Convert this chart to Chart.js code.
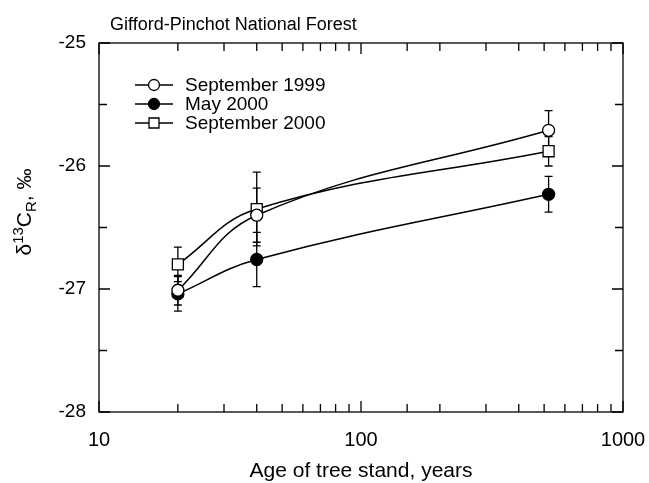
<!DOCTYPE html>
<html>
<head>
<meta charset="utf-8">
<script src="https://cdn.jsdelivr.net/npm/chart.js"></script>
<style>
  body { margin: 0; background: #fff; }
  #wrap { width: 649px; height: 483px; }
</style>
</head>
<body>
<div id="wrap"><canvas id="chart" width="649" height="483"></canvas></div>
<script>
// stand age (years) and d13C of ecosystem respiration
const ages = [20, 40, 520];
const sep1999 = [-27.01, -26.40, -25.71];
const sep1999Err = [0.12, 0.22, 0.16];
const may2000 = [-27.04, -26.76, -26.23];
const may2000Err = [0.14, 0.22, 0.145];
const sep2000 = [-26.80, -26.35, -25.88];
const sep2000Err = [0.14, 0.30, 0.12];
const xLabels = [10, 100, 1000];
const yLabels = [-28, -27, -26, -25];
const seriesNames = ['September 1999', 'May 2000', 'September 2000'];

const FONT = 'Liberation Sans, Arial, Helvetica, sans-serif';

function pts(ys, errs) {
  return ys.map((y, i) => ({ x: ages[i], y: y, err: errs[i] }));
}

function ds(label, ys, errs, style, fill, radius) {
  return {
    label: label,
    data: pts(ys, errs),
    borderColor: '#000',
    borderWidth: 1.5,
    pointStyle: style,
    pointRadius: radius,
    pointBackgroundColor: fill,
    pointBorderColor: '#000',
    pointBorderWidth: 1.3,
    tension: 0.4,
    fill: false
  };
}

// error bars drawn under the markers
const errorBars = {
  id: 'errorBars',
  beforeDatasetsDraw(chart) {
    const ctx = chart.ctx, xs = chart.scales.x, ys = chart.scales.y;
    ctx.save();
    ctx.strokeStyle = '#000';
    ctx.lineWidth = 1.3;
    chart.data.datasets.forEach(d => {
      d.data.forEach(p => {
        const px = xs.getPixelForValue(p.x);
        const top = ys.getPixelForValue(p.y + p.err);
        const bot = ys.getPixelForValue(p.y - p.err);
        ctx.beginPath();
        ctx.moveTo(px, top); ctx.lineTo(px, bot);
        ctx.moveTo(px - 4, top); ctx.lineTo(px + 4, top);
        ctx.moveTo(px - 4, bot); ctx.lineTo(px + 4, bot);
        ctx.stroke();
      });
    });
    ctx.restore();
  }
};

// box, inward ticks, titles, legend
const frame = {
  id: 'frame',
  afterDraw(chart) {
    const ctx = chart.ctx, a = chart.chartArea;
    const xs = chart.scales.x, ys = chart.scales.y;
    ctx.save();
    ctx.strokeStyle = '#000';
    ctx.lineWidth = 1.3;
    ctx.strokeRect(a.left, a.top, a.right - a.left, a.bottom - a.top);
    ctx.beginPath();
    xs.ticks.forEach(t => {
      const px = xs.getPixelForValue(t.value);
      const len = xLabels.includes(t.value) ? 11 : 8;
      ctx.moveTo(px, a.bottom); ctx.lineTo(px, a.bottom - len);
      ctx.moveTo(px, a.top); ctx.lineTo(px, a.top + len);
    });
    ys.ticks.forEach(t => {
      const py = ys.getPixelForValue(t.value);
      const len = Number.isInteger(t.value) ? 11 : 8;
      ctx.moveTo(a.left, py); ctx.lineTo(a.left + len, py);
      ctx.moveTo(a.right, py); ctx.lineTo(a.right - len, py);
    });
    ctx.stroke();

    // chart title
    ctx.fillStyle = '#000';
    ctx.font = '18px ' + FONT;
    ctx.textAlign = 'left';
    ctx.textBaseline = 'alphabetic';
    ctx.fillText('Gifford-Pinchot National Forest', 110, 30);

    // x axis title
    ctx.font = '21px ' + FONT;
    ctx.textAlign = 'center';
    ctx.fillText('Age of tree stand, years', (a.left + a.right) / 2, 477);

    // y axis title with super/subscripts
    ctx.save();
    ctx.translate(31, 212);
    ctx.rotate(-Math.PI / 2);
    const big = '21px ' + FONT, small = '15px ' + FONT;
    const parts = [
      ['\u03B4', big, 0], ['13', small, -8], ['C', big, 0], ['R', small, 5], [', \u2030', big, 0]
    ];
    let w = 0;
    parts.forEach(p => { ctx.font = p[1]; w += ctx.measureText(p[0]).width; });
    let cx = -w / 2;
    ctx.textAlign = 'left';
    parts.forEach(p => {
      ctx.font = p[1];
      ctx.fillText(p[0], cx, p[2]);
      cx += ctx.measureText(p[0]).width;
    });
    ctx.restore();

    // legend
    const rowY = [85, 104, 123];
    chart.data.datasets.forEach((d, i) => {
      const y = rowY[i];
      ctx.lineWidth = 1.3;
      ctx.beginPath();
      ctx.moveTo(135, y); ctx.lineTo(173, y);
      ctx.stroke();
      ctx.fillStyle = d.pointBackgroundColor;
      ctx.beginPath();
      if (d.pointStyle === 'rect') {
        ctx.rect(149, y - 5, 10, 10);
      } else {
        ctx.arc(154, y, 5.5, 0, Math.PI * 2);
      }
      ctx.fill();
      ctx.stroke();
      ctx.fillStyle = '#000';
      ctx.font = '19px ' + FONT;
      ctx.textAlign = 'left';
      ctx.textBaseline = 'middle';
      ctx.fillText(seriesNames[i], 185, y + 1);
    });
    ctx.restore();
  }
};

new Chart(document.getElementById('chart'), {
  type: 'line',
  data: {
    datasets: [
      ds(seriesNames[0], sep1999, sep1999Err, 'circle', '#fff', 6),
      ds(seriesNames[1], may2000, may2000Err, 'circle', '#000', 6),
      ds(seriesNames[2], sep2000, sep2000Err, 'rect', '#fff', 7.8)
    ]
  },
  options: {
    responsive: false,
    animation: false,
    devicePixelRatio: 1,
    layout: { padding: { top: 43, right: 26, left: 0, bottom: 0 } },
    plugins: { legend: { display: false }, tooltip: { enabled: false } },
    scales: {
      x: {
        type: 'logarithmic',
        min: 10,
        max: 1000,
        grid: { display: false, drawTicks: false },
        border: { display: false },
        afterFit: s => { s.height = 71; s.paddingLeft = 0; s.paddingRight = 0; },
        ticks: {
          autoSkip: false,
          maxRotation: 0,
          padding: 16,
          color: '#000',
          font: { family: FONT, size: 20 },
          callback: v => xLabels.includes(v) ? String(v) : ''
        }
      },
      y: {
        min: -28,
        max: -25,
        grid: { display: false, drawTicks: false },
        border: { display: false },
        afterFit: s => { s.width = 99; },
        ticks: {
          stepSize: 0.5,
          padding: 13,
          color: '#000',
          font: { family: FONT, size: 19 },
          callback: v => yLabels.includes(v) ? String(v) : ''
        }
      }
    }
  },
  plugins: [errorBars, frame]
});
</script>
</body>
</html>
